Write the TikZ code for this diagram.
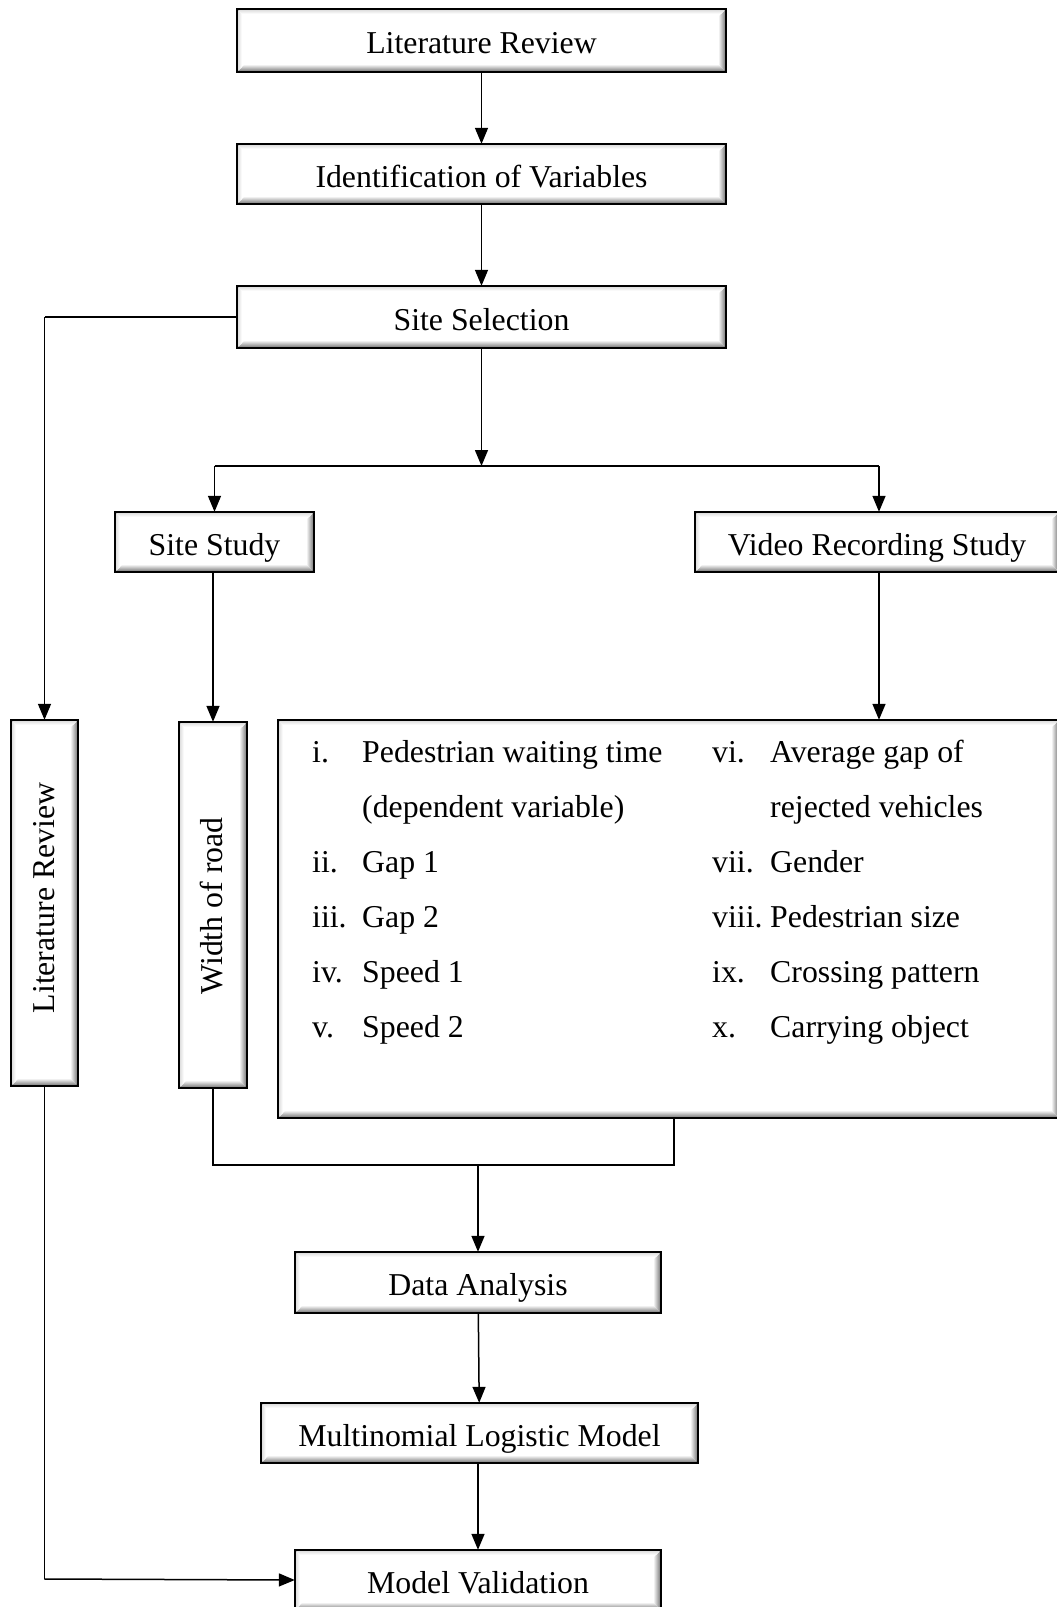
\documentclass[tikz,border=0pt]{standalone}
\usepackage{fontspec}
\setmainfont{Liberation Serif}
\usetikzlibrary{arrows.meta,calc}
\tikzset{
  pbox/.style={draw, line width=2.4pt, fill=white, rectangle, inner sep=0pt,
    text height=27pt, text depth=1pt,
    font=\fontsize{31.8}{38}\selectfont},
  conn/.style={line width=1.5pt},
  arr/.style={line width=1.5pt, -{Triangle[length=16pt,width=13pt]}},
  itm/.style={anchor=base west, inner sep=0pt, font=\fontsize{31.8}{38}\selectfont},
  vtext/.style={rotate=90, inner sep=0pt, font=\fontsize{31.8}{38}\selectfont}
}
\newcommand\bevelbox[1]{%
  \shade[top color=white, bottom color=black!50]
    ($(#1.south west)+(1.2,-1.2)$) -- ($(#1.south east)+(-1.2,-1.2)$) --
    ($(#1.south east)+(-8,-8)$) -- ($(#1.south west)+(8,-8)$) -- cycle;
  \shade[left color=white, right color=black!50]
    ($(#1.north east)+(-1.2,1.2)$) -- ($(#1.south east)+(-1.2,-1.2)$) --
    ($(#1.south east)+(-8,-8)$) -- ($(#1.north east)+(-8,8)$) -- cycle;
  \shade[top color=black!12, bottom color=white]
    ($(#1.north west)+(1.2,1.2)$) -- ($(#1.north east)+(-1.2,1.2)$) --
    ($(#1.north east)+(-5,5)$) -- ($(#1.north west)+(5,5)$) -- cycle;
  \shade[left color=black!12, right color=white]
    ($(#1.north west)+(1.2,1.2)$) -- ($(#1.south west)+(1.2,-1.2)$) --
    ($(#1.south west)+(5,-5)$) -- ($(#1.north west)+(5,5)$) -- cycle;
  \draw[line width=2.4pt] (#1.north west) rectangle (#1.south east);
}
\begin{document}
\begin{tikzpicture}[x=1pt,y=-1pt]
\useasboundingbox (0,0) rectangle (1057,1607);

\node[pbox, minimum width=487pt, minimum height=61pt] (lr) at (481.5,40.5) {Literature Review};
\node[pbox, minimum width=487pt, minimum height=58pt] (idv) at (481.5,174) {Identification of Variables};
\node[pbox, minimum width=487pt, minimum height=60pt] (ss) at (481.5,317) {Site Selection};
\node[pbox, minimum width=197pt, minimum height=58pt] (sst) at (214.5,542) {Site Study};
\node[pbox, minimum width=362pt, minimum height=58pt] (vrs) at (877,542) {Video Recording Study};
\node[pbox, minimum width=65pt, minimum height=364pt] (lrv) at (44.5,903) {};
\node[pbox, minimum width=66pt, minimum height=364pt] (wr) at (213,905) {};
\node[pbox, minimum width=779pt, minimum height=396pt] (big) at (668.5,919) {};
\node[pbox, minimum width=364pt, minimum height=59pt] (da) at (478,1282.5) {Data Analysis};
\node[pbox, minimum width=435pt, minimum height=58pt] (mlm) at (479.5,1433) {Multinomial Logistic Model};
\node[pbox, minimum width=364pt, minimum height=58pt] (mv) at (478,1580) {Model Validation};

\foreach \b in {lr,idv,ss,sst,vrs,lrv,wr,big,da,mlm,mv} {\bevelbox{\b}}

\node[vtext] (lrvt) at (44,898) {Literature Review};
\node[vtext] (wrt) at (212,906) {Width of road};

% list items
\node[itm] (n1) at (312,762) {i.};
\node[itm] (t1) at (362,762) {Pedestrian waiting time};
\node[itm] (t1b) at (362,817) {(dependent variable)};
\node[itm] (n2) at (312,872) {ii.};
\node[itm] (t2) at (362,872) {Gap 1};
\node[itm] (n3) at (312,927) {iii.};
\node[itm] (t3) at (362,927) {Gap 2};
\node[itm] (n4) at (312,982) {iv.};
\node[itm] (t4) at (362,982) {Speed 1};
\node[itm] (n5) at (312,1037) {v.};
\node[itm] (t5) at (362,1037) {Speed 2};
\node[itm] (n6) at (712,762) {vi.};
\node[itm] (t6) at (770,762) {Average gap of};
\node[itm] (t6b) at (770,817) {rejected vehicles};
\node[itm] (n7) at (712,872) {vii.};
\node[itm] (t7) at (770,872) {Gender};
\node[itm] (n8) at (712,927) {viii.};
\node[itm] (t8) at (770,927) {Pedestrian size};
\node[itm] (n9) at (712,982) {ix.};
\node[itm] (t9) at (770,982) {Crossing pattern};
\node[itm] (n10) at (712,1037) {x.};
\node[itm] (t10) at (770,1037) {Carrying object};

% coordinates
\coordinate (jn) at (481.5,466);
\coordinate (jl) at (214.5,466);
\coordinate (jr) at (879,466);
\coordinate (lc) at (44.5,317);
\coordinate (mb) at (478,1165);
\coordinate (lb) at (44.5,1579);

% connectors
\draw[arr] (lr) -- (idv);
\draw[arr] (idv) -- (ss);
\draw[arr] (ss) -- (jn);
\draw[conn] (jl) -- (jr);
\draw[arr] (jl) -- (sst.north);
\draw[arr] (jr) -- (jr |- vrs.north);
\draw[conn] (ss.west) -- (lc);
\draw[arr] (lc) -- (lrv.north);
\draw[arr] (sst.south -| wr.north) -- (wr.north);
\draw[arr] (vrs.south -| jr) -- (jr |- big.north);
\draw[conn] (wr.south) -- (wr.south |- mb) -- (674,1165) -- (674,1117);
\draw[arr] (mb) -- (da.north);
\draw[arr] (da) -- (mlm);
\draw[arr] (mlm.south -| mv.north) -- (mv.north);
\draw[conn] (lrv.south) -- (lb);
\draw[arr] (lb) -- (mv.west);
\end{tikzpicture}
\end{document}
